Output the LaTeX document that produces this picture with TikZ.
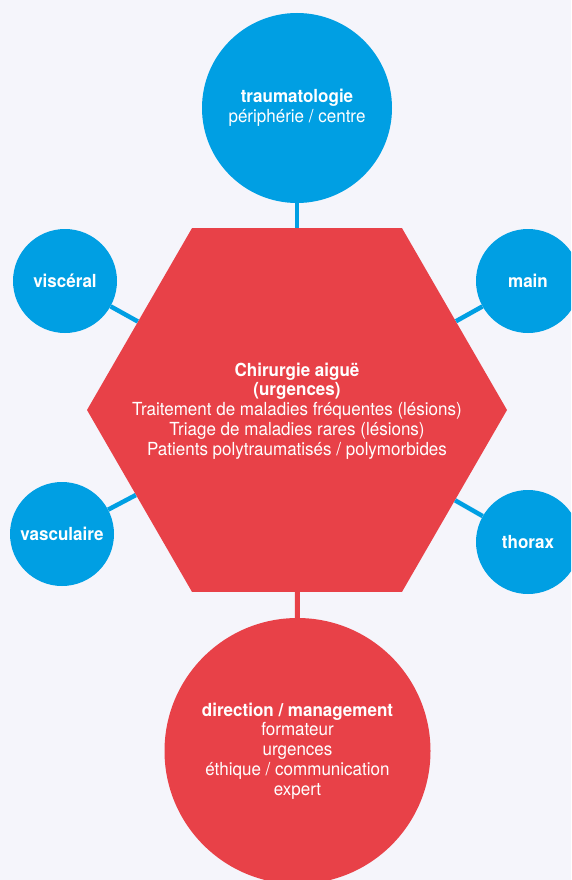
\documentclass[tikz,border=0pt]{standalone}
\usepackage{fontspec}
\setmainfont{TeX Gyre Heros}[FakeStretch=0.945]
\usetikzlibrary{shapes.geometric}
\definecolor{bg}{HTML}{F5F5FB}
\definecolor{cblue}{HTML}{009FE3}
\definecolor{cred}{HTML}{E84148}
\newcommand\dfont{\fontsize{18pt}{19.8pt}\selectfont}
\begin{document}
\begin{tikzpicture}[x=1pt,y=-1pt,
  bubble/.style={circle,draw=none,inner sep=0pt,text=white,align=center,font=\dfont},
  bluec/.style={bubble,fill=cblue},
  redc/.style={bubble,fill=cred},
  hexa/.style={regular polygon,regular polygon sides=6,fill=cred,draw=none,inner sep=0pt,
    minimum size=420pt},
  hextext/.style={inner sep=0pt,text=white,align=center,font=\dfont},
  blink/.style={draw=cblue,line width=4.5pt},
  rlink/.style={draw=cred,line width=5pt}]
\useasboundingbox (0,0) rectangle (571,880);
\clip (0,0) rectangle (571,880);
\fill[bg] (0,0) rectangle (571,880);

\node[hexa] (hex) at (297,410) {};
\node[hextext] (hexlabel) at (297,411) {\textbf{Chirurgie aiguë}\\\textbf{(urgences)}\\Traitement de maladies fréquentes (lésions)\\Triage de maladies rares (lésions)\\Patients polytraumatisés / polymorbides};
\node[bluec,minimum size=190pt] (trauma) at (297,108) {\textbf{traumatologie}\\périphérie / centre};
\node[bluec,minimum size=104pt] (visc) at (65,281) {\textbf{viscéral}};
\node[bluec,minimum size=104pt] (main) at (528,281) {\textbf{main}};
\node[bluec,minimum size=104pt] (vasc) at (62,534) {\textbf{vasculaire}};
\node[bluec,minimum size=104pt] (thor) at (528,542) {\textbf{thorax}};
\node[redc,minimum size=266pt] (dir) at (297.5,751) {\textbf{direction / management}\\formateur\\urgences\\éthique / communication\\expert};

\draw[blink] (trauma) -- (hex);
\draw[blink] (visc) -- (hex);
\draw[blink] (main) -- (hex);
\draw[blink] (vasc) -- (hex);
\draw[blink] (thor) -- (hex);
\draw[rlink] (hex) -- (dir);
\end{tikzpicture}
\end{document}
